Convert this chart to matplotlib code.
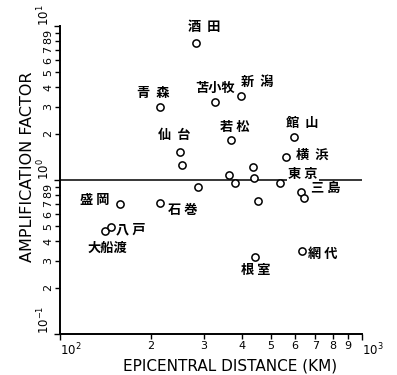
import matplotlib
matplotlib.use("Agg")
import matplotlib.pyplot as plt
from matplotlib.ticker import LogLocator, FuncFormatter, LogFormatterSciNotation

plt.rcParams["font.family"] = ["DejaVu Sans"]
plt.rcParams["mathtext.default"] = "regular"

# epicentral distance (km) and amplification factor of each station
distance = [283, 398, 326, 214, 369, 597, 560, 249, 254,
            434, 364, 381, 438, 535, 286, 451,
            628, 644, 632, 443, 158.5, 214, 141, 147]
amplification = [7.76, 3.51, 3.22, 2.98, 1.82, 1.91, 1.40, 1.53, 1.25,
                 1.22, 1.08, 0.96, 1.035, 0.95, 0.905, 0.734,
                 0.84, 0.76, 0.346, 0.315, 0.70, 0.706, 0.469, 0.497]

# station names and the point each one sits beside
names = ["酒  田", "新  潟", "苫小牧", "青  森", "若 松", "館  山", "横  浜",
         "仙  台", "東 京", "三 島", "網 代", "根 室", "盛 岡", "石 巻",
         "八 戸", "大船渡"]
name_point = [0, 1, 2, 3, 4, 5, 6, 7, 13, 16, 18, 19, 20, 21, 22, 22]

# label offsets from their point, pixels (right, up)
name_offset = [(8, 16), (16, 14), (0, 14), (-7, 14), (4, 13), (8, 14), (26, 3),
               (-5, 17), (23, 9), (25, 4), (21, -3), (1, -13), (-26, 4),
               (23, -7), (26, 1), (2, -17)]

W, H = 397, 375
fig = plt.figure(figsize=(W / 100, H / 100), dpi=100)
ax = fig.add_axes([60 / W, 41 / H, 302 / W, 308 / H])
ax.set_xscale("log")
ax.set_yscale("log")
ax.set_xlim(100, 1000)
ax.set_ylim(0.1, 10)

for s in ("top", "right"):
    ax.spines[s].set_visible(False)
for s in ("left", "bottom"):
    ax.spines[s].set_linewidth(1.4)

ax.axhline(1, color="black", lw=1.1, zorder=1)

ax.plot(distance, amplification, "o", ms=5.2, mfc="white", mec="black",
        mew=1.1, zorder=3)

cjk = ["Noto Sans CJK JP", "DejaVu Sans"]
for name, idx, (dx, dy) in zip(names, name_point, name_offset):
    kw = {}
    if name.startswith("東"):
        kw["bbox"] = dict(fc="white", ec="none", pad=1)
    ax.annotate(name, xy=(distance[idx], amplification[idx]), xytext=(dx, dy),
                textcoords="offset pixels", ha="center", va="center",
                fontsize=9.5, fontweight="bold", family=cjk, zorder=4, **kw)

digit = FuncFormatter(lambda v, p: "%d" % round(v / 10 ** int(f"{v:e}".split("e")[1])))
for axis in (ax.xaxis, ax.yaxis):
    axis.set_major_locator(LogLocator(base=10))
    axis.set_minor_locator(LogLocator(base=10, subs=range(2, 10)))
    axis.set_major_formatter(LogFormatterSciNotation())
    axis.set_minor_formatter(digit)

ax.tick_params(which="both", direction="out", width=1.0, labelsize=8, pad=1.5)
ax.tick_params(which="major", length=4, labelsize=8.5)
ax.tick_params(which="minor", length=3.5)

fig.canvas.draw()
for lab in ax.get_xticklabels():
    lab.set_ha("left")
for lab in ax.get_yticklabels():
    lab.set_rotation(90)
    lab.set_va("bottom")
for lab in ax.get_yticklabels(minor=True):
    lab.set_rotation(90)
    lab.set_va("center")

fig.text(230 / W, 1 - 366 / H, "EPICENTRAL DISTANCE (KM)", ha="center",
         va="center", fontsize=11)
fig.text(28 / W, 1 - 167 / H, "AMPLIFICATION FACTOR", ha="center",
         va="center", rotation=90, fontsize=11.5)

fig.savefig("out.png", dpi=100)
